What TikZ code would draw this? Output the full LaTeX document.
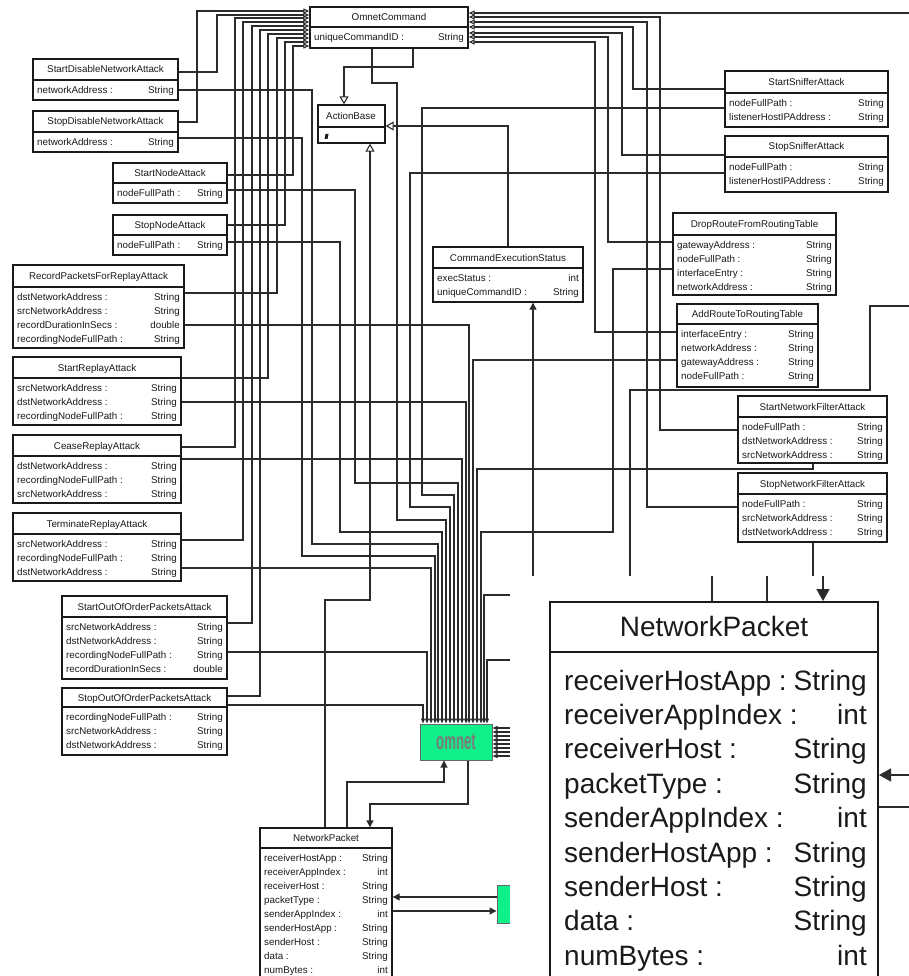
\documentclass[tikz,border=0pt]{standalone}
\usepackage{fontspec}
\setmainfont{Liberation Sans}
\usepackage{graphicx}
\usetikzlibrary{arrows.meta,fit,calc}
\definecolor{ink}{HTML}{1A1A1A}
\definecolor{wire}{HTML}{2B2B2B}
\definecolor{omgreen}{HTML}{10F08A}
\definecolor{omtext}{HTML}{7A7A7A}
\tikzset{
  every node/.style={font=\fontsize{9.8}{10}\selectfont, text=ink},
  cls/.style={draw=ink, line width=1.3pt, inner sep=0pt, fill=white},
  clsline/.style={draw=ink, line width=1.3pt},
  clstitle/.style={inner sep=0pt, text height=9pt, text depth=2pt},
  attr/.style={inner sep=0pt, text height=9pt, text depth=2pt},
  wireline/.style={draw=wire, line width=1.1pt},
  inh/.style={wireline, -{Triangle[open, length=6pt, width=5pt]}},
  gen/.style={wireline, -{Triangle[open, length=8pt, width=9pt]}},
  dep/.style={wireline, -{Triangle[length=5pt, width=4pt]}},
  assoc/.style={wireline, -{Triangle[length=7pt, width=7pt]}},
  bigassoc/.style={wireline, line width=1.6pt, -{Triangle[length=12pt, width=13pt]}},
  omnetbox/.style={draw=black!60, line width=1pt, fill=omgreen, inner sep=0pt},
  bigcls/.style={draw=ink, line width=2pt, inner sep=0pt, fill=white},
  bigtext/.style={font=\fontsize{28}{29}\selectfont, inner sep=0pt, text height=26pt, text depth=6pt},
}
% class box: name, x1, y1, x2, y2, header line, title, attributes
\newcommand{\umlclass}[8]{%
  \node[cls, fit={(#2,#3) (#4,#5)}] (#1) {};
  \draw[clsline] (#2,#6) -- (#4,#6);
  \node[clstitle] at ({(#2+#4)/2},{(#3+#6)/2}) {#7};
  \foreach \atr/\typ [count=\i] in {#8} {
    \node[attr, anchor=west] at ({#2+4},{#6-4+14*\i}) {\atr};
    \node[attr, anchor=east] at ({#4-4},{#6-4+14*\i}) {\typ};
  }%
}
\begin{document}
\begin{tikzpicture}[x=1pt, y=-1pt]
\fill[white] (0,0) rectangle (909,976);
\useasboundingbox (0,0) rectangle (909,976);

% central classes
\umlclass{omc}{310}{7}{468}{48}{27}{OmnetCommand}{uniqueCommandID :/String}
\node[cls, fit={(318,105) (385,143)}] (ab) {};
\draw[clsline] (318,127) -- (385,127);
\node[clstitle] at (351,116) {ActionBase};
\fill[ink] (325.5,134) -- (328.5,134) -- (327.5,139) -- (324.5,139) -- cycle;
\umlclass{ces}{433}{247}{583}{302}{268}{CommandExecutionStatus}{execStatus :/int, uniqueCommandID :/String}

% left classes
\umlclass{startdis}{33}{59}{178}{100}{80}{StartDisableNetworkAttack}{networkAddress :/String}
\umlclass{stopdis}{33}{111}{178}{152}{132}{StopDisableNetworkAttack}{networkAddress :/String}
\umlclass{startnode}{113}{163}{227}{203}{183}{StartNodeAttack}{nodeFullPath :/String}
\umlclass{stopnode}{113}{215}{227}{255}{235}{StopNodeAttack}{nodeFullPath :/String}
\umlclass{record}{13}{265}{184}{348}{287}{RecordPacketsForReplayAttack}{dstNetworkAddress :/String, srcNetworkAddress :/String, recordDurationInSecs :/double, recordingNodeFullPath :/String}
\umlclass{startreplay}{13}{357}{181}{425}{378}{StartReplayAttack}{srcNetworkAddress :/String, dstNetworkAddress :/String, recordingNodeFullPath :/String}
\umlclass{cease}{13}{435}{181}{503}{456}{CeaseReplayAttack}{dstNetworkAddress :/String, recordingNodeFullPath :/String, srcNetworkAddress :/String}
\umlclass{term}{13}{513}{181}{581}{534}{TerminateReplayAttack}{srcNetworkAddress :/String, recordingNodeFullPath :/String, dstNetworkAddress :/String}
\umlclass{startooo}{62}{596}{227}{679}{617}{StartOutOfOrderPacketsAttack}{srcNetworkAddress :/String, dstNetworkAddress :/String, recordingNodeFullPath :/String, recordDurationInSecs :/double}
\umlclass{stopooo}{62}{688}{227}{755}{707}{StopOutOfOrderPacketsAttack}{recordingNodeFullPath :/String, srcNetworkAddress :/String, dstNetworkAddress :/String}

% right classes
\umlclass{startsniff}{725}{71}{888}{127}{93}{StartSnifferAttack}{nodeFullPath :/String, listenerHostIPAddress :/String}
\umlclass{stopsniff}{725}{136}{888}{192}{157}{StopSnifferAttack}{nodeFullPath :/String, listenerHostIPAddress :/String}
\umlclass{droproute}{673}{213}{836}{295}{235}{DropRouteFromRoutingTable}{gatewayAddress :/String, nodeFullPath :/String, interfaceEntry :/String, networkAddress :/String}
\umlclass{addroute}{677}{304}{818}{387}{324}{AddRouteToRoutingTable}{interfaceEntry :/String, networkAddress :/String, gatewayAddress :/String, nodeFullPath :/String}
\umlclass{startnf}{738}{396}{887}{463}{417}{StartNetworkFilterAttack}{nodeFullPath :/String, dstNetworkAddress :/String, srcNetworkAddress :/String}
\umlclass{stopnf}{738}{473}{887}{542}{494}{StopNetworkFilterAttack}{nodeFullPath :/String, srcNetworkAddress :/String, dstNetworkAddress :/String}

% omnet module and packet
\node[omnetbox, fit={(420,724) (492,760)}] (omnet) {};
\node[inner sep=0pt] at (omnet.center) {\scalebox{0.55}[1]{\fontsize{24}{24}\selectfont\bfseries\color{omtext}omnet}};
\umlclass{np}{260}{828}{392}{990}{848}{NetworkPacket}{receiverHostApp :/String, receiverAppIndex :/int, receiverHost :/String, packetType :/String, senderAppIndex :/int, senderHostApp :/String, senderHost :/String, data :/String, numBytes :/int}
\node[omnetbox, fit={(497,885) (530,923)}] (app) {};

% generalisation to OmnetCommand, left side
\draw[inh] (stopdis.east |- 0,122) -| (197,11) -- (omc.west |- 0,11);
\draw[inh] (startdis.east |- 0,72) -| (217,15) -- (omc.west |- 0,15);
\draw[inh] (cease.east |- 0,447) -| (235,18) -- (omc.west |- 0,18);
\draw[inh] (term.east |- 0,540) -| (243,22) -- (omc.west |- 0,22);
\draw[inh] (startooo.east |- 0,623) -| (252,26) -- (omc.west |- 0,26);
\draw[inh] (stopooo.east |- 0,696) -| (260,30) -- (omc.west |- 0,30);
\draw[inh] (startreplay.east |- 0,378) -| (268,34) -- (omc.west |- 0,34);
\draw[inh] (record.east |- 0,293) -| (277,38) -- (omc.west |- 0,38);
\draw[inh] (stopnode.east |- 0,225) -| (285,42) -- (omc.west |- 0,42);
\draw[inh] (startnode.east |- 0,175) -| (293,46) -- (omc.west |- 0,46);

% generalisation to OmnetCommand, right side
\coordinate (offright) at (909,13);
\draw[inh] (offright) -- (omc.east |- 0,13);
\draw[inh] (startnf.west |- 0,430) -| (660,17) -- (omc.east |- 0,17);
\draw[inh] (stopnf.west |- 0,507) -| (647,22) -- (omc.east |- 0,22);
\draw[inh] (startsniff.west |- 0,89) -| (633,27) -- (omc.east |- 0,27);
\draw[inh] (stopsniff.west |- 0,155) -| (622,33) -- (omc.east |- 0,33);
\draw[inh] (droproute.west |- 0,242) -| (608,37) -- (omc.east |- 0,37);
\draw[inh] (addroute.west |- 0,332) -| (595,42) -- (omc.east |- 0,42);

% ActionBase
\draw[gen] (omc.south -| 413,0) |- (344,67) -- (344,0 |- ab.north);
\draw[gen] (ces.north -| 508,0) |- (ab.east |- 0,126);
\draw[gen] (np.north -| 325,0) |- (370,600) -- (370,0 |- ab.south);

% dependencies into omnet
\draw[dep] (stopooo.east |- 0,705) -| (423,0 |- omnet.north);
\draw[dep] (startooo.east |- 0,652) -| (427,0 |- omnet.north);
\draw[dep] (term.east |- 0,568) -| (431,0 |- omnet.north);
\draw[dep] (stopdis.east |- 0,138) -| (302,556) -| (435,0 |- omnet.north);
\draw[dep] (startdis.east |- 0,90) -| (312,544) -| (438,0 |- omnet.north);
\draw[dep] (stopnode.east |- 0,242) -| (340,532) -| (442,0 |- omnet.north);
\draw[dep] (omc.south -| 372,0) |- (397,83) |- (446,520) -- (446,0 |- omnet.north);
\draw[dep] (stopsniff.west |- 0,173) -| (410,507) -| (450,0 |- omnet.north);
\draw[dep] (startsniff.west |- 0,108) -| (422,495) -| (454,0 |- omnet.north);
\draw[dep] (startnode.east |- 0,190) -| (355,483) -| (458,0 |- omnet.north);
\draw[dep] (cease.east |- 0,459) -| (462,0 |- omnet.north);
\draw[dep] (startreplay.east |- 0,402) -| (466,0 |- omnet.north);
\draw[dep] (record.east |- 0,325) -| (469,0 |- omnet.north);
\draw[dep] (addroute.west |- 0,360) -| (473,0 |- omnet.north);
\draw[dep] (startnf.south -| 813,0) |- (477,469) -- (477,0 |- omnet.north);
\draw[dep] (droproute.west |- 0,269) -| (613,532) -| (481,0 |- omnet.north);
\coordinate (cutA) at (530,595);
\coordinate (cutB) at (530,660);
\draw[dep] (cutA) -| (484,0 |- omnet.north);
\draw[dep] (cutB) -| (487,0 |- omnet.north);
\foreach \y in {728,732,...,756} {
  \draw[dep] (530,\y) -- (omnet.east |- 0,\y);
}

% other wires
\draw[assoc] (533,600) -- (533,0 |- ces.south);
\draw[wireline] (909,306) -| (870,390) -| (630,600);
\draw[wireline] (stopnf.south -| 813,0) -- (813,600);
\draw[assoc] (np.north -| 347,0) |- (444,782) -- (444,0 |- omnet.south);
\draw[assoc] (omnet.south -| 468,0) |- (370,804) -- (370,0 |- np.north);
\draw[assoc] (app.west |- 0,897) -- (np.east |- 0,897);
\draw[assoc] (np.east |- 0,911) -- (app.west |- 0,911);

% magnified NetworkPacket
\fill[white] (510,576) rectangle (909,976);
\node[bigcls, fit={(550,602) (878,995)}] (bignp) {};
\draw[draw=ink, line width=2pt] (550,652) -- (878,652);
\node[bigtext] at (714,626) {NetworkPacket};
\foreach \atr/\typ [count=\i] in {receiverHostApp :/String, receiverAppIndex :/int, receiverHost :/String, packetType :/String, senderAppIndex :/int, senderHostApp :/String, senderHost :/String, data :/String, numBytes :/int} {
  \node[bigtext, anchor=west] at ({564},{645.6+34.4*\i}) {\atr};
  \node[bigtext, anchor=east] at ({867},{645.6+34.4*\i}) {\typ};
}
\draw[wireline, line width=1.6pt] (712,576) -- (712,0 |- bignp.north);
\draw[wireline, line width=1.6pt] (767,576) -- (767,0 |- bignp.north);
\coordinate (inA) at (823,576);
\coordinate (inB) at (909,775);
\coordinate (outB) at (909,807);
\draw[bigassoc] (inA) -- (823,0 |- bignp.north);
\draw[bigassoc] (inB) -- (bignp.east |- 0,775);
\draw[wireline, line width=1.6pt] (bignp.east |- 0,807) -- (outB);
\end{tikzpicture}
\end{document}
